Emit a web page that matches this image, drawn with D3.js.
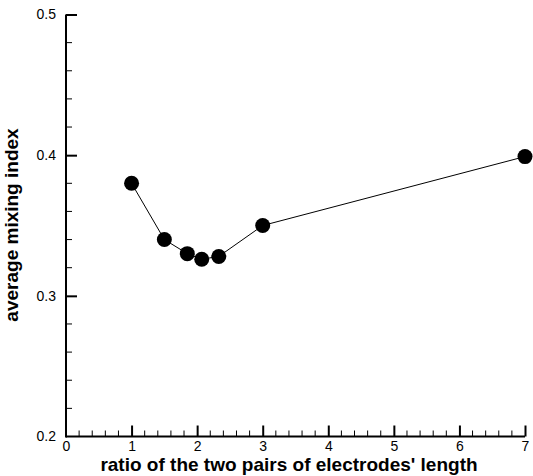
<!DOCTYPE html>
<html>
<head>
<meta charset="utf-8">
<script src="https://cdn.jsdelivr.net/npm/d3@7"></script>
<style>
  body { margin: 0; background: #fff; overflow: hidden; }
  text { font-family: "Liberation Sans", Arial, sans-serif; }
</style>
</head>
<body>
<script>
// length ratio vs. average mixing index
const ratios = [1, 1.5, 1.85, 2.07, 2.33, 3, 7];
const mixing = [0.380, 0.340, 0.330, 0.326, 0.328, 0.350, 0.399];
const xTicks = [0, 1, 2, 3, 4, 5, 6, 7];
const yTicks = [0.2, 0.3, 0.4, 0.5];

const W = 533, H = 476;
const x = d3.scaleLinear().domain([0, 7]).range([66, 525]);
const y = d3.scaleLinear().domain([0.2, 0.5]).range([436.5, 14.5]);

const svg = d3.select("body").append("svg")
  .attr("width", W).attr("height", H);

// minor ticks
const xMinor = d3.range(0, 7.001, 0.2).filter(v => Math.abs(v - Math.round(v)) > 1e-6);
const yMinor = d3.range(0.2, 0.5001, 0.02).filter(v => Math.abs(v * 10 - Math.round(v * 10)) > 1e-6);

// bottom axis
const gx = svg.append("g").attr("transform", "translate(0," + y(0.2) + ")");
gx.call(d3.axisBottom(x).tickValues(xTicks).tickSize(-11).tickPadding(5).tickFormat(d3.format("d")));
gx.selectAll(".tick").filter(d => d === 0).select("line").remove();
gx.selectAll(".minor").data(xMinor).enter().append("line")
  .attr("x1", d => x(d)).attr("x2", d => x(d))
  .attr("y1", 0).attr("y2", -6)
  .attr("stroke", "#000").attr("stroke-width", 1);

// left axis
const gy = svg.append("g").attr("transform", "translate(" + x(0) + ",0)");
gy.call(d3.axisLeft(y).tickValues(yTicks).tickSize(-11).tickPadding(10).tickFormat(d3.format(".1f")));
gy.selectAll(".tick").filter(d => d === 0.2).select("line").remove();
gy.selectAll(".minor").data(yMinor).enter().append("line")
  .attr("x1", 0).attr("x2", 6)
  .attr("y1", d => y(d)).attr("y2", d => y(d))
  .attr("stroke", "#000").attr("stroke-width", 1);

[gx, gy].forEach(g => {
  g.select(".domain").remove();
  g.selectAll(".tick line").attr("stroke-width", 2);
  g.selectAll(".tick text").attr("font-size", 14)
    .attr("font-family", "Liberation Sans, Arial, sans-serif").attr("fill", "#000");
});
svg.append("line").attr("x1", x(0)).attr("x2", x(7)).attr("y1", y(0.2)).attr("y2", y(0.2))
  .attr("stroke", "#000").attr("stroke-width", 2);
svg.append("line").attr("x1", x(0)).attr("x2", x(0)).attr("y1", y(0.2) + 1).attr("y2", y(0.5))
  .attr("stroke", "#000").attr("stroke-width", 2);

// line + markers
const pts = ratios.map((r, i) => [r, mixing[i]]);
svg.append("path")
  .datum(pts)
  .attr("fill", "none").attr("stroke", "#000").attr("stroke-width", 1)
  .attr("d", d3.line().x(d => x(d[0])).y(d => y(d[1])));

svg.selectAll("circle.pt").data(pts).enter().append("circle")
  .attr("class", "pt")
  .attr("cx", d => x(d[0])).attr("cy", d => y(d[1]))
  .attr("r", 7.5).attr("fill", "#000");

// axis titles
svg.append("text")
  .attr("x", 289).attr("y", 471)
  .attr("text-anchor", "middle")
  .attr("font-weight", "bold").attr("font-size", 19)
  .text("ratio of the two pairs of electrodes' length");

svg.append("text")
  .attr("transform", "translate(18," + 225 + ") rotate(-90)")
  .attr("text-anchor", "middle")
  .attr("font-weight", "bold").attr("font-size", 19)
  .text("average mixing index");
</script>
</body>
</html>
